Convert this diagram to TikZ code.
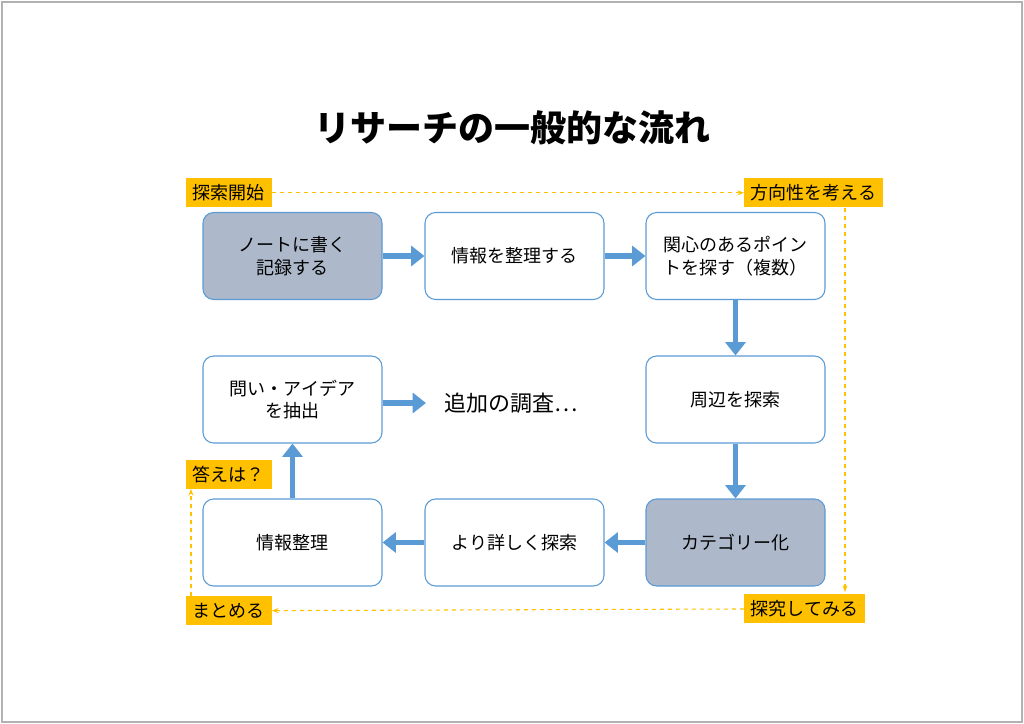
\documentclass[tikz,border=0pt]{standalone}
\usepackage{fontspec}
\setmainfont{Noto Sans CJK JP}
\usetikzlibrary{arrows.meta}
\definecolor{bl}{HTML}{5B9BD5}
\definecolor{gb}{HTML}{ADB9CA}
\definecolor{yl}{HTML}{FFC000}
\begin{document}
\begin{tikzpicture}[x=0.75pt,y=-0.75pt,
 box/.style={draw=bl,line width=0.8pt,rounded corners=8pt,minimum width=179*0.75pt,minimum height=87*0.75pt,align=center,font=\fontsize{13.5}{17}\selectfont,fill=white},
 dark/.style={box,fill=gb},
 arr/.style={draw=bl,line width=4pt,-{Triangle[length=10pt,width=15pt]}},
 lab/.style={fill=yl,inner xsep=5pt,inner ysep=3pt,font=\fontsize{13.5}{16}\selectfont,minimum height=29*0.75pt},
 dsh/.style={draw=yl,dashed,line width=0.8pt,-{Stealth[length=5pt]}}]
\useasboundingbox (0,0) rectangle (1024,724);
\draw[gray!60,line width=0.8pt] (2,2) rectangle (1022,722);
\node (title) at (512,128) {\fontsize{27}{31}\selectfont\bfseries リサーチの一般的な流れ};
\node[dark] (a) at (292.5,256) {ノートに書く\\記録する};
\node[box] (b) at (514.5,256) {情報を整理する};
\node[box] (c) at (735.5,256) {関心のあるポイン\\トを探す（複数）};
\node[box] (d) at (735.5,399.5) {周辺を探索};
\node[dark] (e) at (735.5,542.5) {カテゴリー化};
\node[box] (f) at (514.5,542.5) {より詳しく探索};
\node[box] (g) at (292.5,542.5) {情報整理};
\node[box] (h) at (292.5,399.5) {問い・アイデア\\を抽出};
\node[font=\fontsize{16.5}{20}\selectfont,anchor=west] (i) at (440,403) {追加の調査…};
\coordinate (ie) at (426,403);
\draw[arr] (a) -- (b);
\draw[arr] (b) -- (c);
\draw[arr] (c) -- (d);
\draw[arr] (d) -- (e);
\draw[arr] (e) -- (f);
\draw[arr] (f) -- (g);
\draw[arr] (g) -- (h);
\draw[arr] (h.east |- ie) -- (ie);
\node[lab,anchor=north west] (l1) at (186,178) {探索開始};
\node[lab,anchor=north west] (l2) at (744,178) {方向性を考える};
\node[lab,anchor=north west] (l3) at (186,460) {答えは？};
\node[lab,anchor=north west] (l4) at (186,596) {まとめる};
\node[lab,anchor=north west] (l5) at (744,594) {探究してみる};
\coordinate (p1) at (845,208);
\coordinate (p2) at (845,592);
\coordinate (q1) at (191,596);
\coordinate (q2) at (191,489);
\draw[dsh] (l1) -- (l2);
\draw[dsh] (p1) -- (p2);
\draw[dsh] (l5) -- (l4);
\draw[dsh] (q1) -- (q2);
\end{tikzpicture}
\end{document}
